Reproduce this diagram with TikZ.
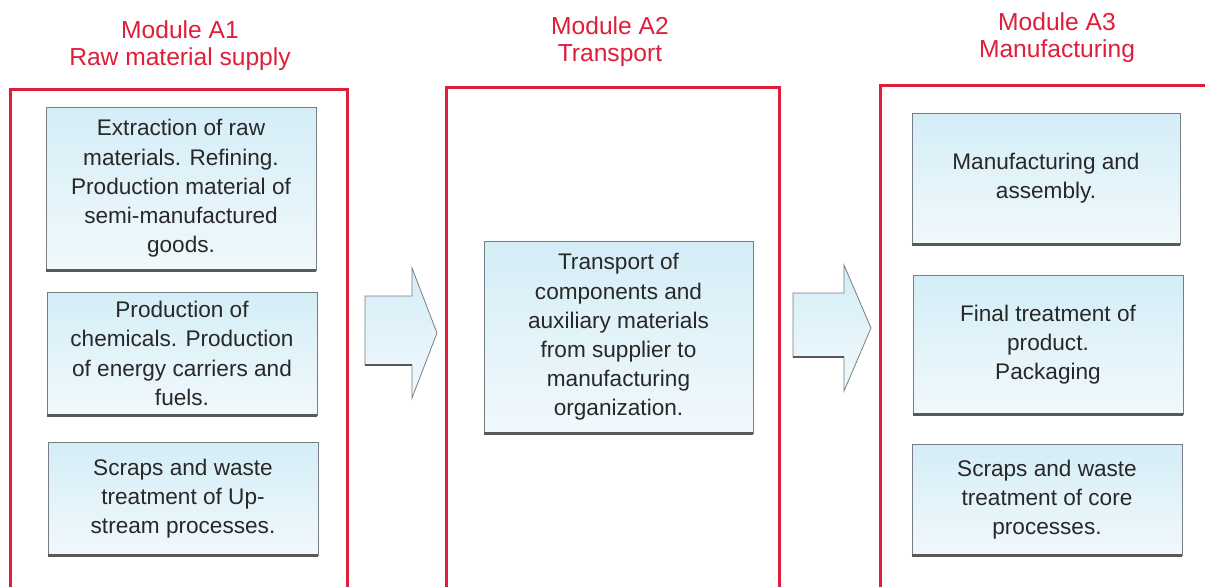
\documentclass[tikz,border=0pt]{standalone}
\usepackage{fontspec}
\setmainfont{Liberation Sans}
\definecolor{modred}{RGB}{222,30,58}
\definecolor{boxtop}{RGB}{212,237,247}
\definecolor{boxbot}{RGB}{241,249,252}
\definecolor{boxline}{RGB}{120,125,130}
\definecolor{boxtext}{RGB}{40,40,40}
\begin{document}
\begin{tikzpicture}[x=0.5pt, y=-0.5pt,
    modframe/.style={draw=modred, line width=1.5pt},
    modlabel/.style={text=modred, align=center, inner sep=0pt, font=\fontsize{12.3}{13.5}\selectfont},
    stagebox/.style={draw=boxline, line width=0.4pt, top color=boxtop, bottom color=boxbot,
        minimum width=135pt, inner sep=2pt, align=center, text=boxtext,
        font=\fontsize{11.3}{14.6}\selectfont},
    boxbase/.style={draw=black!65, line width=1.3pt},
    blockarrow/.style={draw=boxline, line width=0.4pt, top color=boxtop, bottom color=boxbot}]
    \clip (0,0) rectangle (1205,586);
    % module frames, open at the bottom of the page
    \draw[modframe] (10,89) rectangle (347,620);
    \draw[modframe] (446,87) rectangle (779,620);
    \draw[modframe] (880,85) rectangle (1230,620);
    \node[modlabel] (labA1) at (180,46) {Module A1\\Raw material supply};
    \node[modlabel] (labA2) at (610,42) {Module A2\\Transport};
    \node[modlabel] (labA3) at (1057,38) {Module A3\\Manufacturing};
    % module A1
    \node[stagebox, minimum height=81.5pt] (raw) at (181,188.5)
        {Extraction of raw\\materials. Refining.\\Production material of\\semi-manufactured\\goods.};
    \node[stagebox, minimum height=61.5pt] (chem) at (182,353.5)
        {Production of\\chemicals. Production\\of energy carriers and\\fuels.};
    \node[stagebox, minimum height=56.5pt] (scrapup) at (183,498.5)
        {Scraps and waste\\treatment of Up-\\stream processes.};
    % module A2
    \node[stagebox, minimum width=134.5pt, minimum height=96pt] (trans) at (618.5,337)
        {Transport of\\components and\\auxiliary materials\\from supplier to\\manufacturing\\organization.};
    % module A3
    \node[stagebox, minimum width=134pt, minimum height=65.5pt] (manu) at (1046,178.5)
        {Manufacturing and\\assembly.};
    \node[stagebox, minimum height=69.5pt] (final) at (1048,344.5)
        {Final treatment of\\product.\\Packaging};
    \node[stagebox, minimum height=55.5pt] (scrapcore) at (1047,499.5)
        {Scraps and waste\\treatment of core\\processes.};
    \foreach \b in {raw,chem,scrapup,trans,manu,final,scrapcore}
        \draw[boxbase] (\b.south west) -- (\b.south east);
    % block arrows between the modules
    \path[blockarrow] (365,296) -- (412,296) -- (412,268) -- (437,333) -- (412,398)
        -- (412,365) -- (365,365) -- cycle;
    \draw[boxbase] (365,365) -- (412,365);
    \path[blockarrow] (793,293) -- (844,293) -- (844,265) -- (871,328) -- (844,391)
        -- (844,357) -- (793,357) -- cycle;
    \draw[boxbase] (793,357) -- (844,357);
\end{tikzpicture}
\end{document}
